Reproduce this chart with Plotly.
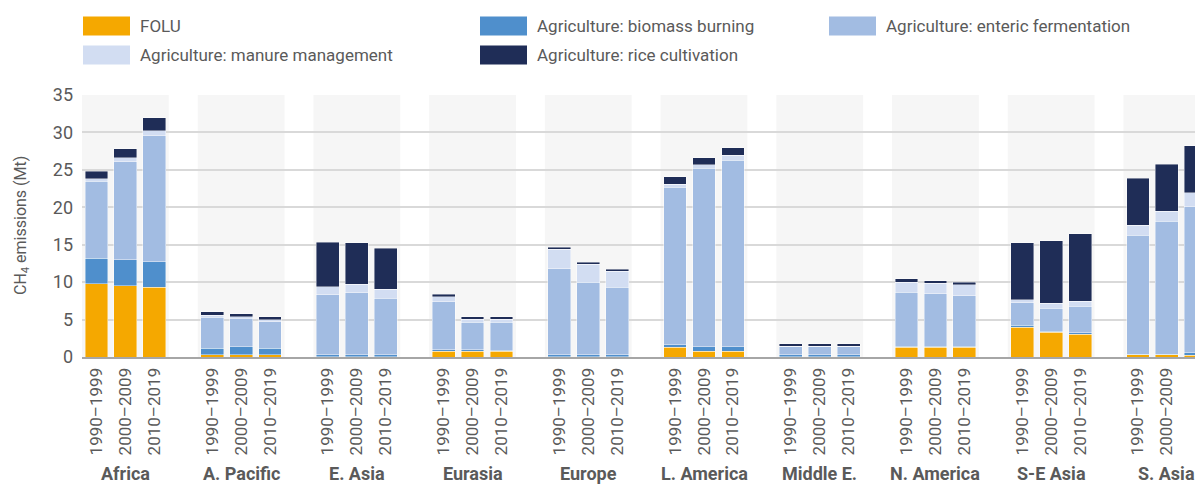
import plotly.graph_objects as go

regions = ["Africa", "A. Pacific", "E. Asia", "Eurasia", "Europe",
           "L. America", "Middle E.", "N. America", "S-E Asia", "S. Asia"]
periods = ["1990–1999", "2000–2009", "2010–2019"]

# values per region, for the three decades (Mt CH4)
folu = [[9.8, 9.55, 9.35], [0.3, 0.3, 0.3], [0.05, 0.05, 0.05], [0.75, 0.75, 0.75],
        [0.05, 0.05, 0.05], [1.3, 0.75, 0.75], [0.05, 0.05, 0.05], [1.3, 1.3, 1.3],
        [4.0, 3.3, 3.05], [0.3, 0.3, 0.25]]
biomass = [[3.4, 3.45, 3.4], [0.9, 1.1, 0.9], [0.25, 0.25, 0.25], [0.2, 0.2, 0.15],
           [0.25, 0.25, 0.25], [0.35, 0.65, 0.65], [0.25, 0.25, 0.25], [0.12, 0.12, 0.12],
           [0.22, 0.15, 0.22], [0.05, 0.05, 0.35]]
enteric = [[10.25, 13.1, 16.8], [4.1, 3.8, 3.5], [8.0, 8.3, 7.55], [6.45, 3.7, 3.75],
           [11.5, 9.7, 9.05], [21.0, 23.8, 24.9], [1.05, 1.05, 1.05], [7.2, 7.0, 6.75],
           [3.05, 3.05, 3.5], [15.9, 17.8, 19.5]]
manure = [[0.35, 0.5, 0.7], [0.25, 0.15, 0.3], [1.1, 1.1, 1.2], [0.67, 0.4, 0.4],
          [2.6, 2.4, 2.1], [0.45, 0.45, 0.65], [0.1, 0.1, 0.1], [1.35, 1.45, 1.5],
          [0.35, 0.7, 0.65], [1.35, 1.35, 1.85]]
rice = [[1.0, 1.2, 1.7], [0.5, 0.45, 0.4], [5.9, 5.55, 5.5], [0.3, 0.35, 0.35],
        [0.25, 0.25, 0.25], [1.0, 1.0, 1.0], [0.3, 0.3, 0.3], [0.5, 0.35, 0.3],
        [7.65, 8.3, 9.05], [6.25, 6.25, 6.25]]

series = [
    ("FOLU", folu, "#f5a800"),
    ("Agriculture: biomass burning", biomass, "#4f8fcc"),
    ("Agriculture: enteric fermentation", enteric, "#a2bce2"),
    ("Agriculture: manure management", manure, "#d2ddf2"),
    ("Agriculture: rice cultivation", rice, "#1f2d57"),
]

# x positions: 4 slots per region (3 bars + gap)
xs, ticktext = [], []
for g in range(len(regions)):
    for j in range(len(periods)):
        xs.append(g * 4 + j)
        ticktext.append(periods[j])

# the page body has an 8px margin: figure pixel = screen pixel - 8
OFF = 8
W, H = 1203 - OFF, 486 - OFF
ML, MR, MT = 82 - OFF, 0, 95 - OFF
MB = H - (357 - OFF)
PW, PH = W - ML - MR, H - MT - MB
SLOT = 28.93
xmax = -0.5 + PW / SLOT

FONT = "Roboto, 'Open Sans', sans-serif"
GREY = "#5a5a5a"

fig = go.Figure()
for name, vals, col in series:
    flat = [v for grp in vals for v in grp]
    fig.add_trace(go.Bar(
        x=xs, y=flat, name=name, width=0.79,
        marker=dict(color=col, line=dict(color="rgba(255,255,255,0.7)", width=0.6)),
        showlegend=False,
    ))

shapes = []
for g in range(len(regions)):
    shapes.append(dict(type="rect", xref="x", yref="paper", x0=g * 4 - 0.5, x1=g * 4 + 2.5,
                       y0=0, y1=1, fillcolor="#f6f6f6", line=dict(width=0), layer="below"))

# helpers: convert screen pixel positions to paper coordinates
def px_x(p):
    return (p - OFF - ML) / PW

def px_y(p):
    return (H - MB - (p - OFF)) / PH

annotations = []
# legend (manual)
legend_items = [
    (0, 83, 26), (1, 480, 26), (2, 829, 26), (3, 83, 55), (4, 480, 55)
]
for idx, lx, ly in legend_items:
    name, _, col = series[idx]
    shapes.append(dict(type="rect", xref="paper", yref="paper",
                       x0=px_x(lx), x1=px_x(lx + 47), y0=px_y(ly - 9.5), y1=px_y(ly + 9.5),
                       fillcolor=col, line=dict(width=0)))
    annotations.append(dict(xref="paper", yref="paper", x=px_x(lx + 55), y=px_y(ly),
                            text=name, showarrow=False, xanchor="left", yanchor="middle",
                            font=dict(family=FONT, size=17, color=GREY)))

# region labels
for g, r in enumerate(regions):
    annotations.append(dict(xref="x", yref="paper", x=g * 4 + 1, y=px_y(485.5),
                            text="<b>" + r + "</b>", showarrow=False,
                            xanchor="center", yanchor="bottom",
                            font=dict(family=FONT, size=18, color=GREY)))

# y-axis title
annotations.append(dict(xref="paper", yref="paper", x=px_x(21), y=0.5,
                        text="CH<sub>4</sub> emissions (Mt)", showarrow=False,
                        textangle=-90, xanchor="center", yanchor="middle",
                        font=dict(family=FONT, size=16, color=GREY)))

fig.update_layout(
    width=W, height=H, barmode="stack",
    margin=dict(l=ML, r=MR, t=MT, b=MB),
    paper_bgcolor="white", plot_bgcolor="white",
    shapes=shapes, annotations=annotations,
    xaxis=dict(range=[-0.5, xmax], tickvals=xs, ticktext=ticktext, tickangle=-90,
               showgrid=False, zeroline=False, showline=True, linecolor="#a6a6a6",
               linewidth=2, ticks="", ticklabelstandoff=2,
               tickfont=dict(family=FONT, size=17, color=GREY)),
    yaxis=dict(range=[0, 35], tickvals=[0, 5, 10, 15, 20, 25, 30, 35], showgrid=True,
               gridcolor="#d9d9d9", gridwidth=1.5, zeroline=False, showline=False,
               ticks="", ticklabelstandoff=8,
               tickfont=dict(family=FONT, size=18, color=GREY)),
)

fig.write_html("out.html")
